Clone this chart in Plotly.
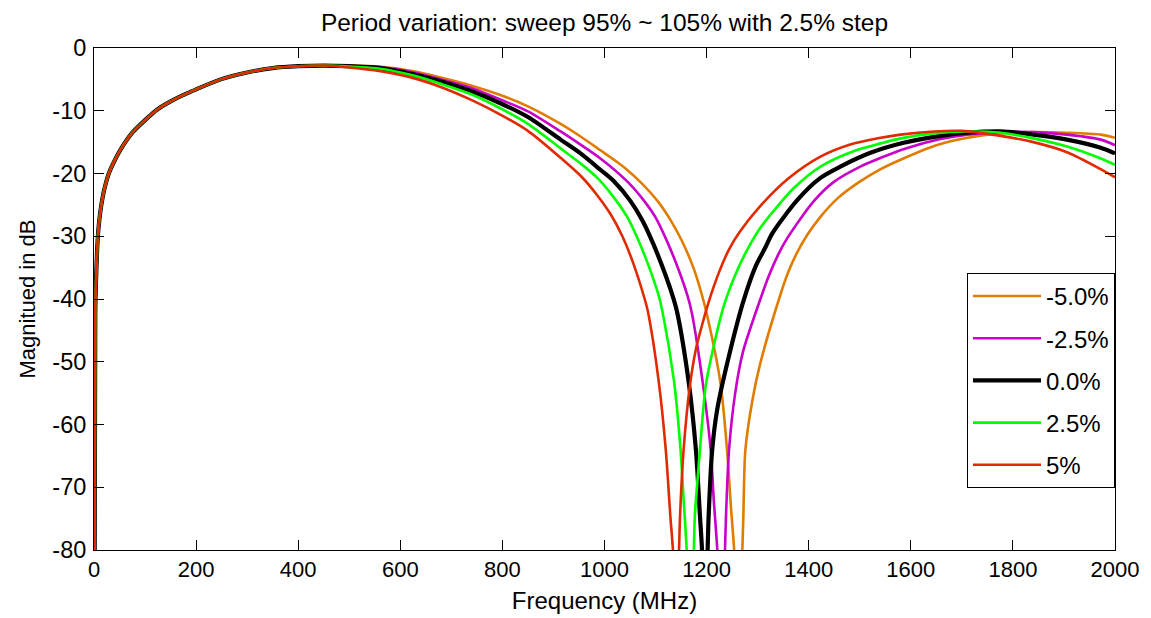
import plotly.graph_objects as go

# ---- data ----
# common low-frequency part (all five curves coincide there)
f_low = [1, 2.5, 4, 6, 8, 11, 14, 20, 29, 40, 52, 75, 100, 124, 150, 183, 200, 248, 300, 350, 400, 450]
db_low = [-90, -42, -37, -32.5, -29.5, -27, -25.2, -22.6, -20, -18, -16.2, -13.5, -11.5, -9.8, -8.5, -7.2, -6.6, -5.0, -3.9, -3.2, -2.9, -2.8]

f_orange = [500, 561, 626, 679, 740, 796, 850, 914, 953, 992, 1020, 1044, 1072, 1106, 1130, 1152, 1175, 1191, 1201, 1227, 1240, 1248, 1254, 1262,
            1270, 1272, 1276, 1290, 1305, 1345, 1360, 1376, 1397, 1423, 1456, 1500, 1541, 1580, 1650, 1711, 1776, 1840, 1906, 1972, 2000]
db_orange = [-2.8, -3.0, -3.7, -4.7, -6.0, -7.5, -9.3, -12.1, -14.1, -16.3, -17.9, -19.4, -21.5, -24.6, -27.5, -30.8, -35.2, -39.4, -42.6, -53.3, -64, -73.5, -80, -95,
             -80, -74.6, -64, -56, -50.3, -39.2, -35.7, -32.8, -29.8, -26.9, -24.0, -21.3, -19.3, -17.8, -15.5, -14.3, -13.6, -13.4, -13.5, -13.8, -14.3]

f_magenta = [500, 561, 626, 679, 740, 796, 850, 914, 953, 992, 1045, 1078, 1100, 1123, 1145, 1163, 1171, 1191, 1208, 1214, 1221, 1229,
             1236, 1238, 1244, 1256, 1271, 1305, 1322, 1341, 1358, 1410, 1450, 1501, 1541, 1590, 1658, 1711, 1776, 1840, 1906, 1972, 2000]
db_magenta = [-2.85, -3.05, -3.9, -5.0, -6.4, -8.2, -10.1, -13.3, -15.4, -17.6, -21.3, -24.4, -27.0, -30.9, -35.3, -39.6, -42.2, -52.5, -64, -72, -80, -95,
              -80, -74.6, -64, -55, -48.5, -40.1, -36.3, -32.8, -30.3, -24.4, -21.3, -18.9, -17.5, -16.0, -14.5, -13.8, -13.4, -13.4, -13.8, -14.6, -15.5]

f_black = [500, 561, 626, 679, 740, 796, 850, 914, 953, 992, 1018, 1051, 1075, 1096, 1120, 1135, 1142, 1165, 1179, 1187, 1191, 1196,
           1202, 1204, 1211, 1221, 1247, 1273, 1296, 1315, 1329, 1378, 1423, 1462, 1521, 1586, 1658, 1711, 1776, 1840, 1906, 1972, 2000]
db_black = [-2.9, -3.2, -4.2, -5.3, -6.9, -8.8, -11.0, -14.6, -16.8, -19.4, -21.2, -24.4, -27.6, -31.3, -36.3, -39.9, -42.0, -53.3, -64, -74.6, -80, -95,
            -80, -74.6, -64, -57.5, -48.0, -40.1, -34.8, -31.8, -29.5, -24.2, -20.7, -18.9, -16.7, -15.1, -14.0, -13.5, -13.3, -13.8, -14.6, -15.9, -16.8]

f_green = [500, 561, 626, 679, 740, 796, 850, 914, 953, 986, 1020, 1045, 1064, 1085, 1106, 1113, 1136, 1149, 1155, 1161, 1168,
           1175, 1177, 1187, 1198, 1212, 1234, 1258, 1280, 1305, 1331, 1370, 1423, 1489, 1541, 1580, 1645, 1711, 1776, 1840, 1906, 1972, 2000]
db_green = [-2.95, -3.3, -4.4, -5.7, -7.4, -9.6, -12.1, -16.0, -18.4, -20.7, -24.0, -27.0, -30.2, -34.4, -39.4, -41.8, -53.0, -64, -72, -80, -95,
            -80, -74.6, -64, -54, -48.2, -41.0, -35.8, -32.1, -28.7, -26.0, -22.4, -18.9, -16.4, -15.2, -14.4, -13.6, -13.3, -13.5, -14.4, -15.7, -17.6, -18.6]

f_red = [500, 561, 626, 679, 740, 796, 850, 914, 956, 986, 1012, 1035, 1055, 1078, 1085, 1106, 1120, 1129, 1134, 1140,
         1146, 1148, 1155, 1167, 1179, 1190, 1204, 1225, 1244, 1265, 1305, 1360, 1423, 1480, 1541, 1580, 1645, 1700, 1776, 1840, 1906, 1972, 2000]
db_red = [-3.1, -3.7, -4.8, -6.2, -8.3, -10.6, -13.2, -17.5, -20.6, -23.5, -26.5, -30.0, -34.0, -39.8, -42.0, -53.0, -64, -74.6, -80, -95,
          -80, -74.6, -64, -54, -48.0, -44.5, -40.5, -35.6, -32.1, -29.3, -25.2, -20.8, -17.3, -15.4, -14.3, -13.8, -13.3, -13.2, -14.0, -15.0, -16.6, -19.3, -20.6]

series = [
    ("-5.0%", f_orange, db_orange, "#E07C00", 2.6),
    ("-2.5%", f_magenta, db_magenta, "#C800C8", 2.6),
    ("0.0%", f_black, db_black, "#000000", 4.2),
    ("2.5%", f_green, db_green, "#00FF00", 2.6),
    ("5%", f_red, db_red, "#E02A00", 2.6),
]

x_ticks = [0, 200, 400, 600, 800, 1000, 1200, 1400, 1600, 1800, 2000]
y_ticks = [0, -10, -20, -30, -40, -50, -60, -70, -80]

FONT = "Arial, Liberation Sans, sans-serif"

fig = go.Figure()
for i, (name, fx, fy, col, w) in enumerate(series):
    fig.add_trace(go.Scatter(
        x=f_low + fx, y=db_low + fy, mode="lines", name=name,
        line=dict(color=col, width=w, shape="spline", smoothing=0.8),
        legendgroup=f"g{i}",
    ))

# page body adds an 8px offset, so the figure is sized 8px smaller
fig.update_layout(
    width=1143, height=610,
    margin=dict(l=86, r=36, t=40, b=68),
    paper_bgcolor="white", plot_bgcolor="white",
    font=dict(family=FONT, size=22, color="black"),
    title=dict(text="Period variation: sweep 95% ~ 105% with 2.5% step",
               x=0.5, xref="paper", xanchor="center",
               y=1 - 14 / 610, yref="container", yanchor="middle",
               font=dict(family=FONT, size=24.5, color="black")),
    showlegend=True,
    legend=dict(x=1.0, xanchor="right", y=0.552, yanchor="top",
                bgcolor="white", bordercolor="black", borderwidth=1,
                font=dict(family=FONT, size=24, color="black"),
                tracegroupgap=8, itemwidth=68),
)

fig.update_xaxes(
    range=[0, 2000], tickvals=x_ticks, ticktext=[str(v) for v in x_ticks],
    ticks="inside", ticklen=10, tickcolor="black", tickwidth=1,
    showline=True, linecolor="black", linewidth=1, mirror="ticks",
    showgrid=False, zeroline=False, automargin=False,
    tickfont=dict(size=22),
    ticklabelstandoff=0,
    title=dict(text="Frequency (MHz)", font=dict(family=FONT, size=24), standoff=10),
)
fig.update_yaxes(
    range=[-80, 0], tickvals=y_ticks, ticktext=[str(v) for v in y_ticks],
    ticks="inside", ticklen=10, tickcolor="black", tickwidth=1,
    showline=True, linecolor="black", linewidth=1, mirror="ticks",
    showgrid=False, zeroline=False, automargin=False,
    tickfont=dict(size=23.5),
    ticklabelstandoff=2,
    title=dict(text="Magnitued in dB", font=dict(family=FONT, size=22), standoff=10),
)

fig.write_html("out.html")
